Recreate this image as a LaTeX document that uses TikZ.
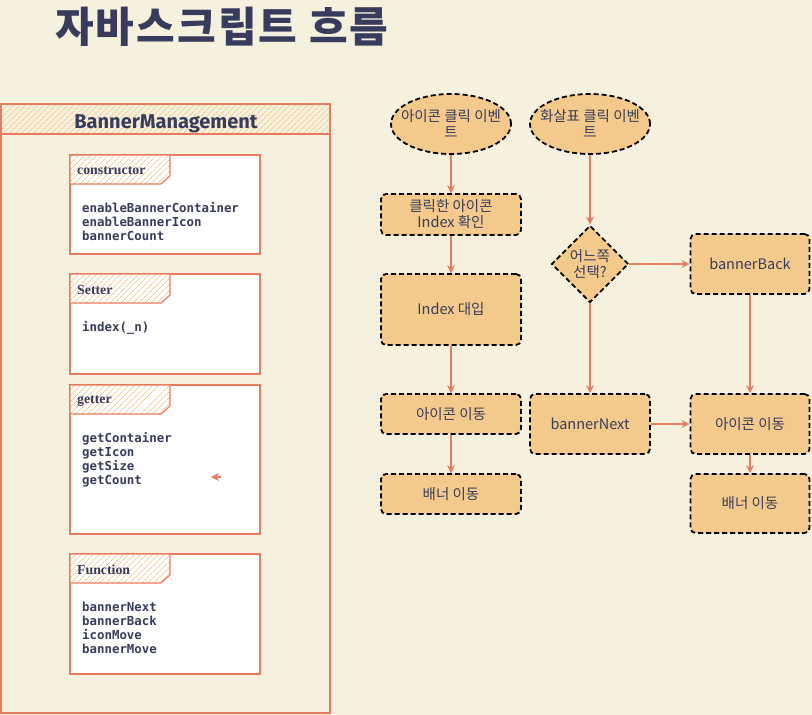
\documentclass[tikz,border=0pt]{standalone}
\usepackage{fontspec}
\setmainfont{Noto Sans CJK KR}
\newfontfamily\headfont{Fira Sans}
\newfontfamily\codefont{DejaVu Sans Mono}
\newfontfamily\tabfont{Liberation Serif}
\usetikzlibrary{arrows.meta,patterns.meta,shapes.geometric}
\definecolor{paper}{RGB}{245,241,222}
\definecolor{ink}{RGB}{56,60,92}
\definecolor{salmon}{RGB}{232,122,96}
\definecolor{sand}{RGB}{243,202,139}
\definecolor{hatch}{RGB}{242,198,134}
\tikzset{
	memline/.style={draw=salmon, line width=1.2pt},
	hatchfill/.style={preaction={fill=#1}, pattern={Lines[angle=45,distance=4pt,line width=0.7pt]}, pattern color=hatch},
	hatchfill/.default=white,
	headtext/.style={font=\headfont\bfseries\fontsize{20}{23}\selectfont, text=ink, inner sep=0pt},
	tablabel/.style={font=\tabfont\bfseries\fontsize{13.8}{16}\selectfont, text=ink, inner sep=0pt, anchor=west},
	memtext/.style={font=\codefont\bfseries\fontsize{12.4}{14}\selectfont, text=ink, inner sep=0pt, anchor=north west, align=left},
	flowtext/.style={font=\fontsize{14.5}{16}\selectfont, text=ink, align=center, inner sep=0pt},
	flowline/.style={draw=black, fill=sand, line width=1.8pt, dash pattern=on 5pt off 3pt},
	flowbox/.style={flowtext, flowline, rectangle, rounded corners=5pt, minimum width=140pt},
	flowoval/.style={flowtext, flowline, ellipse, minimum width=120pt, minimum height=60pt, inner xsep=-15pt, inner ysep=4pt},
	flowdiamond/.style={flowtext, flowline, diamond, aspect=1, minimum width=77pt, minimum height=77pt},
	flowarrow/.style={draw=salmon, line width=1.2pt, -{Stealth[length=8pt,width=8pt]}}
}
\def\membox(#1:#2:#3)#4{%
	\draw[memline, fill=white] (70,#1) rectangle (260,#2);
	\draw[memline, hatchfill] (70,#1) -- (170,#1) -- (170,#1+21) -- (161,#1+29) -- (70,#1+29) -- cycle;
	\node[tablabel] (#3) at (77,#1+16) {#4};}

\begin{document}
\begin{tikzpicture}[x=1pt, y=-1pt]
			%%%%% START %%%%%
			\fill[paper] (0,0) rectangle (812,715);
			\useasboundingbox (0,0) rectangle (812,715);
			
			\node[anchor=west, inner sep=0pt, text=ink, font=\bfseries\fontsize{42}{48}\selectfont\addfontfeatures{LetterSpace=5}] (title) at (55,27) {자바스크립트 흐름};
			
			% class box
			\draw[memline, fill=paper] (1,104) rectangle (330,713);
			\draw[memline, hatchfill=paper] (1,104) rectangle (330,134);
			\node[headtext] (bannermgmt) at (166,124) {BannerManagement};
			
			\membox(155:254:ctor){constructor}
			\node[memtext] (ctorlist) at (82,202) {enableBannerContainer\\enableBannerIcon\\bannerCount};
			
			\membox(274:374:setter){Setter}
			\node[memtext] (setterlist) at (82,321.5) {index(\_n)};
			
			\membox(385:534:getter){getter}
			\node[memtext] (getterlist) at (82,432) {getContainer\\getIcon\\getSize\\getCount};
			\coordinate (strayfrom) at (221,477);
			\coordinate (strayto) at (211,477);
			\draw[flowarrow] (strayfrom) -- (strayto);
			
			\membox(554:674:func){Function}
			\node[memtext] (funclist) at (82,602) {bannerNext\\bannerBack\\iconMove\\bannerMove};
			
			% flow
			\node[flowoval] (clickicon) at (451,124) {아이콘 클릭 이벤\\트};
			\node[flowoval] (clickarrow) at (590,124) {화살표 클릭 이벤\\트};
			
			\node[flowbox, minimum height=41pt] (checkidx) at (451,214.5) {클릭한 아이콘\\Index 확인};
			\node[flowbox, minimum height=71pt] (setidx) at (451,309.5) {Index 대입};
			\node[flowbox, minimum height=40pt] (moveiconL) at (451,414) {아이콘 이동};
			\node[flowbox, minimum height=40pt] (movebannerL) at (451,494) {배너 이동};
			
			\node[flowdiamond] (choose) at (590,264) {어느쪽\\선택?};
			\node[flowbox, minimum width=119pt, minimum height=60pt] (bback) at (750,264) {bannerBack};
			\node[flowbox, minimum width=120pt, minimum height=60pt] (bnext) at (590,424) {bannerNext};
			\node[flowbox, minimum width=119pt, minimum height=60pt] (moveiconR) at (750,424) {아이콘 이동};
			\node[flowbox, minimum width=119pt, minimum height=59pt] (movebannerR) at (750,503.5) {배너 이동};
			
			\draw[flowarrow] (clickicon) -- (checkidx);
			\draw[flowarrow] (checkidx) -- (setidx);
			\draw[flowarrow] (setidx) -- (moveiconL);
			\draw[flowarrow] (moveiconL) -- (movebannerL);
			
			\draw[flowarrow] (clickarrow) -- (choose);
			\draw[flowarrow] (choose) -- (bback);
			\draw[flowarrow] (choose) -- (bnext);
			\draw[flowarrow] (bnext) -- (moveiconR);
			\draw[flowarrow] (bback) -- (moveiconR);
			\draw[flowarrow] (moveiconR) -- (movebannerR);
			%%%%% END %%%%%
\end{tikzpicture}
\end{document}
